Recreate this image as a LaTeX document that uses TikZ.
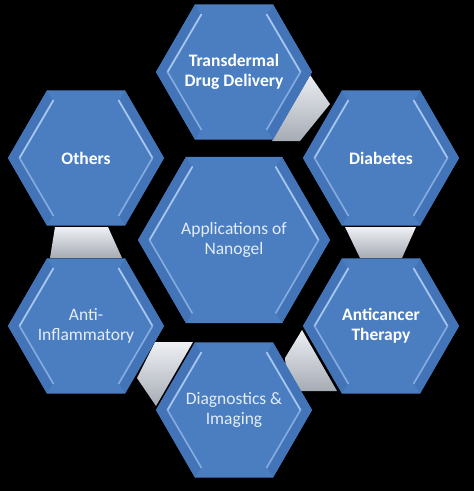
\documentclass[tikz,border=0pt]{standalone}
\usepackage{fontspec}
\setmainfont{Carlito}
\definecolor{hexface}{HTML}{4A7EC1}
\definecolor{hexside}{HTML}{4374B8}
\definecolor{hexhi}{HTML}{A6C6EE}
\definecolor{hexhilow}{HTML}{86ACDF}
\definecolor{txtlight}{HTML}{E4ECF7}
\definecolor{conlight}{HTML}{EEF0F4}
\definecolor{condark}{HTML}{A6ABB4}
\tikzset{
  boldtext/.style={text=white,font=\fontsize{17.5}{20}\selectfont\bfseries,align=center},
  plaintext/.style={text=txtlight,font=\fontsize{17.5}{20}\selectfont,align=center},
  connshade/.style={top color=conlight,bottom color=condark}
}
\newcommand\hexcell[6]{%
  \pgfmathsetmacro\hR{#4}%
  \pgfmathsetmacro\hH{0.866*#4}%
  \pgfmathsetmacro\hr{#4-10.5}%
  \pgfmathsetmacro\hh{0.866*(#4-10.5)}%
  \begin{scope}[shift={(#2,#3)}]
    \fill[hexface] (\hR,0) -- (\hR/2,\hH) -- (-\hR/2,\hH) -- (-\hR,0) -- (-\hR/2,-\hH) -- (\hR/2,-\hH) -- cycle;
    \fill[hexside] (-\hR,0) -- (-\hR/2,-\hH) -- (-\hr/2,-\hh) -- (-\hr,0) -- cycle;
    \fill[hexside] (-\hR,0) -- (-\hR/2,\hH) -- (-\hr/2,\hh) -- (-\hr,0) -- cycle;
    \fill[hexside] (\hR,0) -- (\hR/2,-\hH) -- (\hr/2,-\hh) -- (\hr,0) -- cycle;
    \fill[hexside] (\hR,0) -- (\hR/2,\hH) -- (\hr/2,\hh) -- (\hr,0) -- cycle;
    \draw[hexhi,line width=1.8pt,line cap=round] (-\hr/2+1,-\hh+1) -- (-\hr+1,0);
    \draw[hexhilow,line width=1.6pt,line cap=round] (-\hr+1,0) -- (-\hr/2+1,\hh-1);
    \draw[hexhi,line width=1.8pt,line cap=round] (\hr/2-1,-\hh+1) -- (\hr-1,0);
    \draw[hexhilow,line width=1.6pt,line cap=round] (\hr-1,0) -- (\hr/2-1,\hh-1);
    \node[#5] (#1) at (0,0) {#6};
  \end{scope}}
\begin{document}
\begin{tikzpicture}[x=1pt,y=-1pt]
\fill[black] (0,0) rectangle (474,491);
\useasboundingbox (0,0) rectangle (474,491);
% connectors
\shade[connshade] (308,72) -- (330,104) -- (300,141) -- (272,141) -- cycle;
\shade[connshade] (55,227) -- (108,227) -- (122,258) -- (50,258) -- cycle;
\shade[connshade] (345,227) -- (416,227) -- (402,258) -- (360,258) -- cycle;
\shade[connshade] (155,342) -- (193,342) -- (156,406) -- (137,378) -- cycle;
\shade[connshade] (302,330) -- (337,391) -- (288,391) -- (285,358) -- cycle;
% hexagons
\hexcell{center}{234}{240}{96}{plaintext}{Applications of\\Nanogel}
\hexcell{transdermal}{234}{72}{78}{boldtext}{Transdermal\\Drug Delivery}
\hexcell{others}{86}{158}{78}{boldtext}{Others}
\hexcell{diabetes}{381}{158}{78}{boldtext}{Diabetes}
\hexcell{antiinfl}{86}{326}{78}{plaintext}{Anti-\\Inflammatory}
\hexcell{anticancer}{381}{326}{78}{boldtext}{Anticancer\\Therapy}
\hexcell{diagnostics}{234}{410}{78}{plaintext}{Diagnostics \&\\Imaging}
\end{tikzpicture}
\end{document}
